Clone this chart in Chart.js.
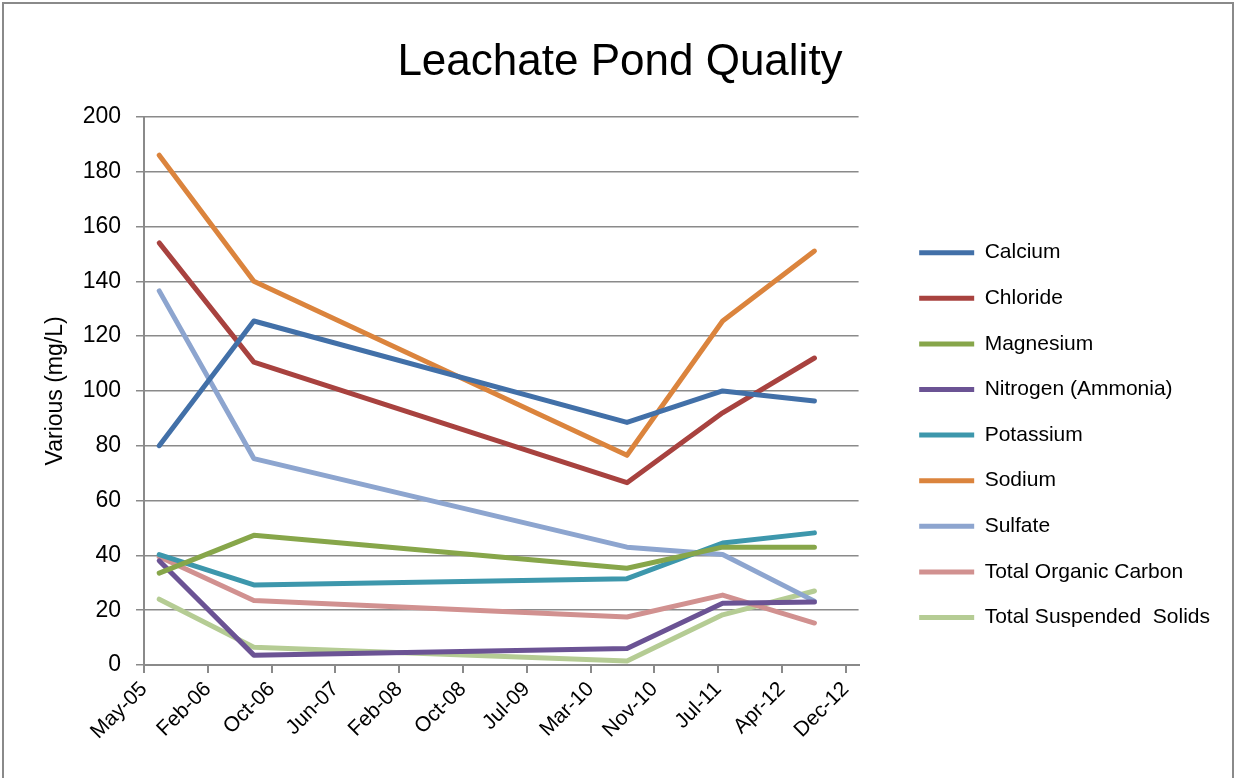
<!DOCTYPE html>
<html>
<head>
<meta charset="utf-8">
<script src="https://cdn.jsdelivr.net/npm/chart.js@4.4.1/dist/chart.umd.min.js"></script>
<style>
    body { margin: 0; background: #fff; }
    #wrap { position: relative; width: 1242px; height: 778px; overflow: hidden; }
    #frame { position: absolute; left: 2px; top: 2px; width: 1228px; height: 900px; border: 2px solid #8a8a8a; pointer-events: none; }
</style>
</head>
<body>
<div id="wrap">
    <canvas id="pondChart" width="1242" height="778"></canvas>
    <div id="frame"></div>
</div>
<script>
// Sample dates (one per survey)
const sampleDates = ['2005-07-14', '2006-07-22', '2010-08-01', '2011-08-13', '2012-08-09'];

// Tick labels along the date axis
const tickLabels = ['May-05', 'Feb-06', 'Oct-06', 'Jun-07', 'Feb-08', 'Oct-08', 'Jul-09', 'Mar-10', 'Nov-10', 'Jul-11', 'Apr-12', 'Dec-12'];
const axisStart = '2005-05-15';
const axisEnd = '2013-01-30';
const tickStepDays = 251.5;

// Series values (mg/L)
const calcium   = [80, 125.5, 88.5, 100, 96.3];
const chloride  = [154, 110.5, 66.5, 92, 112];
const magnesium = [33.5, 47.3, 35.3, 43, 43];
const nitrogen  = [38, 3.6, 6, 22.5, 23];
const potassium = [40.3, 29.2, 31.5, 44.5, 48.2];
const sodium    = [186, 140, 76.5, 125.5, 151];
const sulfate   = [136.5, 75.3, 43, 40.3, 23.3];
const toc       = [39.5, 23.5, 17.5, 25.5, 15.3];
const tss       = [24, 6.5, 1.5, 18.3, 27];

const seriesNames = ['Calcium', 'Chloride', 'Magnesium', 'Nitrogen (Ammonia)', 'Potassium', 'Sodium', 'Sulfate', 'Total Organic Carbon', 'Total Suspended  Solids'];
const seriesValues = [calcium, chloride, magnesium, nitrogen, potassium, sodium, sulfate, toc, tss];
const seriesColors = ['#4270a8', '#a8423f', '#87a64a', '#6b5394', '#3d97ac', '#db843d', '#8da5cf', '#d19190', '#b5cc94'];

const dayOf = s => Date.parse(s) / 86400000;
const xMin = dayOf(axisStart);
const xMax = dayOf(axisEnd);

const family = "'Liberation Sans', Arial, sans-serif";
const gridGray = '#8a8a8a';

const datasets = seriesNames.map((name, i) => ({
    label: name,
    data: seriesValues[i].map((v, j) => ({ x: dayOf(sampleDates[j]), y: v })),
    borderColor: seriesColors[i],
    backgroundColor: seriesColors[i],
    borderWidth: 5,
    borderCapStyle: 'round',
    borderJoinStyle: 'round',
    pointRadius: 0,
    pointHoverRadius: 0,
    tension: 0,
    fill: false
}));

new Chart(document.getElementById('pondChart'), {
    type: 'line',
    data: { datasets },
    options: {
        responsive: false,
        animation: false,
        events: [],
        layout: { padding: { left: 20, right: 22, top: 0, bottom: 0 } },
        plugins: {
            title: {
                display: true,
                text: 'Leachate Pond Quality',
                color: '#000',
                font: { family, size: 44, weight: 'normal' },
                padding: { top: 36, bottom: 28 }
            },
            legend: {
                position: 'right',
                maxWidth: 400,
                // empty title only pushes the item column down
                title: { display: true, text: ' ', font: { size: 1 }, padding: 45.5 },
                labels: {
                    color: '#000',
                    font: { family, size: 21 },
                    usePointStyle: true,
                    pointStyle: 'line',
                    pointStyleWidth: 55,
                    boxWidth: 55,
                    padding: 24.6
                }
            },
            tooltip: { enabled: false }
        },
        scales: {
            x: {
                type: 'linear',
                min: xMin,
                max: xMax,
                afterBuildTicks: scale => {
                    scale.ticks = tickLabels.map((_, i) => ({ value: xMin + i * tickStepDays }));
                },
                afterFit: scale => { scale.height = 113; },
                ticks: {
                    autoSkip: false,
                    maxRotation: 45,
                    minRotation: 45,
                    color: '#000',
                    font: { family, size: 21 },
                    padding: 4,
                    callback: (value, index) => tickLabels[index]
                },
                grid: { drawOnChartArea: false, drawTicks: true, tickLength: 8, color: gridGray, lineWidth: 2 },
                border: { color: gridGray, width: 2 }
            },
            y: {
                min: 0,
                max: 200,
                afterFit: scale => { scale.width = 124; },
                ticks: { stepSize: 20, color: '#000', font: { family, size: 23 }, padding: 15 },
                title: { display: true, text: 'Various (mg/L)', color: '#000', font: { family, size: 23 }, padding: { top: 22, bottom: 4 } },
                grid: { color: gridGray, lineWidth: 1.5, tickLength: 8 },
                border: { color: gridGray, width: 2 }
            },
            gap: {
                position: 'right',
                display: true,
                afterFit: scale => { scale.width = 36; },
                ticks: { display: false },
                grid: { display: false },
                border: { display: false }
            }
        }
    }
});
</script>
</body>
</html>
